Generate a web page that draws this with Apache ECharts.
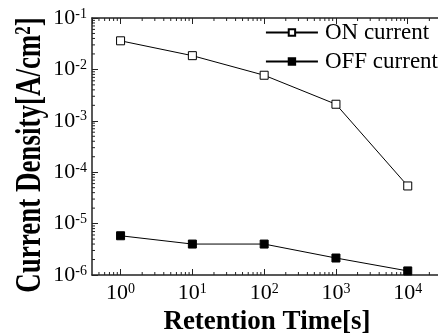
<!DOCTYPE html>
<html>
<head>
<meta charset="utf-8">
<script src="https://cdn.jsdelivr.net/npm/echarts@6/dist/echarts.min.js"></script>
<style>
  html, body { margin: 0; padding: 0; background: #fff; }
  #main { width: 438px; height: 334px; }
</style>
</head>
<body>
<div id="main"></div>
<script>
// retention time [s]
var times = [1, 10, 100, 1000, 10000];
// current density [A/cm2]
var onCurrent = [0.036, 0.0185, 0.0077, 0.0021, 0.000054];
var offCurrent = [0.0000058, 0.000004, 0.000004, 0.00000214, 0.0000012];

var xMin = 0.4, xMax = 30000;
var yMin = 1e-6, yMax = 0.1;
var font = 'Liberation Serif';
var axisColor = '#222';

// log minor ticks 2..9 of every decade, drawn through the axes
var minorTicks = [];
var m, k, v;
for (k = -1; k <= 4; k++) {
    for (m = 2; m <= 9; m++) {
        v = m * Math.pow(10, k);
        if (v > xMin && v < xMax) {
            minorTicks.push([v, yMin, 0]);
            minorTicks.push([v, yMax, 1]);
        }
    }
}
for (k = -6; k <= -2; k++) {
    for (m = 2; m <= 9; m++) {
        v = m * Math.pow(10, k);
        minorTicks.push([xMin, v, 2]);
    }
}

function pow10Label(val) {
    var e = Math.round(Math.log(val) / Math.LN10);
    return '{b|10}{s|' + e + '}';
}

var labelRich = {
    b: { fontFamily: font, fontSize: 22, color: '#000' },
    s: { fontFamily: font, fontSize: 14, color: '#000', verticalAlign: 'top', padding: [0, 0, 7, 0] }
};

var option = {
    animation: false,
    backgroundColor: '#fff',
    grid: { left: 92, top: 18, bottom: 59, right: -4, containLabel: false, outerBoundsMode: 'none' },
    // y 轴标题单独画，原图字形较粗较高
    graphic: [{
        type: 'text',
        x: 31,
        y: 155,
        rotation: Math.PI / 2,
        scaleY: 1.35,
        silent: true,
        style: {
            text: '{n|Current Density[A/cm}{p|2}{n|]}',
            align: 'center',
            verticalAlign: 'middle',
            rich: {
                n: { fontFamily: font, fontSize: 27, fontWeight: 'bold', fill: '#000' },
                p: { fontFamily: font, fontSize: 17, fontWeight: 'bold', fill: '#000', verticalAlign: 'top', padding: [0, 0, 9, 0] }
            }
        }
    }],
    legend: {
        orient: 'vertical',
        right: 0,
        top: 21,
        padding: 0,
        itemGap: 6,
        itemWidth: 52,
        itemHeight: 8,
        data: ['ON current', 'OFF current'],
        textStyle: { fontFamily: font, fontSize: 23, color: '#000', lineHeight: 23, padding: [0, 0, 0, 2] }
    },
    xAxis: [{
        type: 'log',
        logBase: 10,
        min: xMin,
        max: xMax,
        name: 'Retention Time[s]',
        nameLocation: 'middle',
        nameGap: 28,
        nameTextStyle: { fontFamily: font, fontSize: 27, fontWeight: 'bold', color: '#000' },
        axisLine: { lineStyle: { color: axisColor, width: 1.5 } },
        axisTick: { inside: true, length: 6, lineStyle: { color: axisColor } },
        axisLabel: {
            margin: 7,
            showMinLabel: false,
            showMaxLabel: false,
            formatter: pow10Label,
            rich: labelRich
        },
        splitLine: { show: false }
    }, {
        type: 'log',
        logBase: 10,
        min: xMin,
        max: xMax,
        position: 'top',
        axisLine: { lineStyle: { color: axisColor, width: 1.5 } },
        axisTick: { inside: true, length: 6, lineStyle: { color: axisColor } },
        axisLabel: { show: false },
        splitLine: { show: false }
    }],
    yAxis: {
        type: 'log',
        logBase: 10,
        min: yMin,
        max: yMax,
        axisLine: { lineStyle: { color: axisColor, width: 1.5 } },
        axisTick: { inside: true, length: 6, lineStyle: { color: axisColor } },
        axisLabel: {
            margin: 5,
            formatter: pow10Label,
            rich: labelRich
        },
        splitLine: { show: false }
    },
    series: [{
        name: 'ON current',
        type: 'line',
        data: times.map(function (t, i) { return [t, onCurrent[i]]; }),
        symbol: 'rect',
        symbolSize: 8,
        lineStyle: { color: '#000', width: 1 },
        itemStyle: { color: '#fff', borderColor: '#000', borderWidth: 1 },
        z: 5
    }, {
        name: 'OFF current',
        type: 'line',
        data: times.map(function (t, i) { return [t, offCurrent[i]]; }),
        symbol: 'rect',
        symbolSize: 8,
        lineStyle: { color: '#000', width: 1 },
        itemStyle: { color: '#000', borderColor: '#000', borderWidth: 1 },
        z: 5
    }, {
        name: 'minor',
        type: 'custom',
        silent: true,
        data: minorTicks,
        encode: { x: 0, y: 1 },
        renderItem: function (params, api) {
            var p = api.coord([api.value(0), api.value(1)]);
            var kind = api.value(2);
            var len = 3;
            var shape;
            if (kind === 0) shape = { x1: p[0], y1: p[1], x2: p[0], y2: p[1] - len };
            else if (kind === 1) shape = { x1: p[0], y1: p[1], x2: p[0], y2: p[1] + len };
            else shape = { x1: p[0], y1: p[1], x2: p[0] + len, y2: p[1] };
            return { type: 'line', shape: shape, style: { stroke: axisColor, lineWidth: 1 } };
        }
    }]
};

var chart = echarts.init(document.getElementById('main'));
chart.setOption(option);
</script>
</body>
</html>
